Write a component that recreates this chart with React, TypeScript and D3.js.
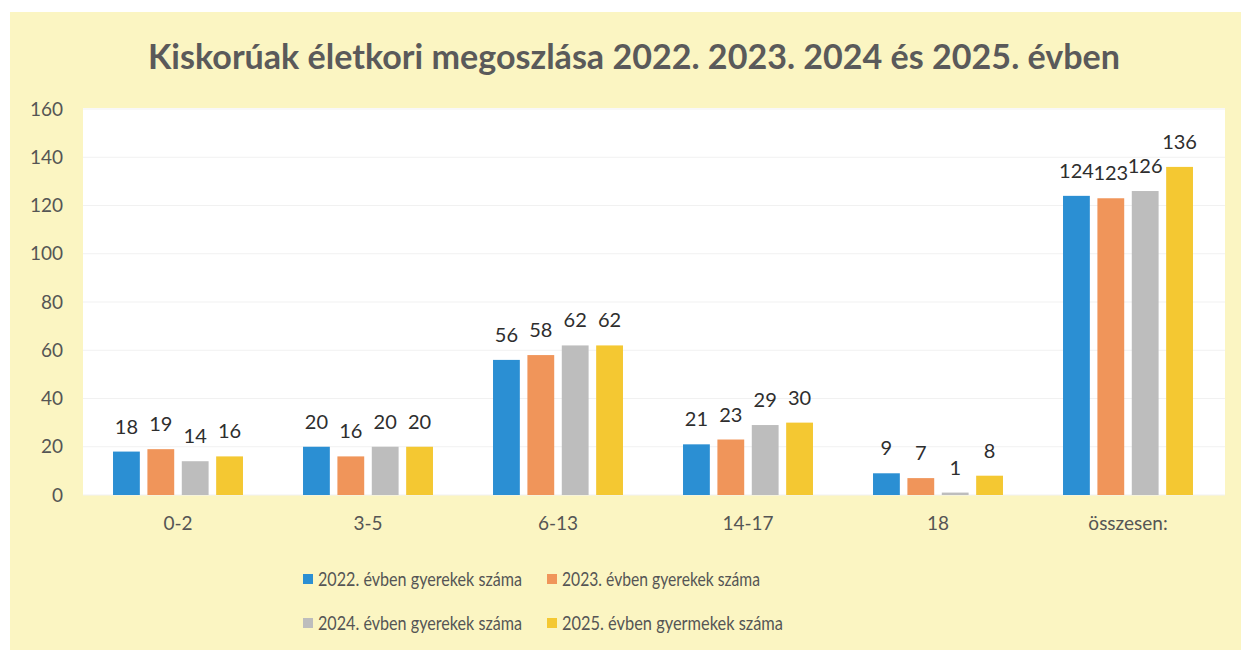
import React from 'react';
import * as d3 from 'd3';

// age groups on the x axis
const categories = ['0-2', '3-5', '6-13', '14-17', '18', 'összesen:'];

// one list per year, same order as categories
const series2022 = [18, 20, 56, 21, 9, 124];
const series2023 = [19, 16, 58, 23, 7, 123];
const series2024 = [14, 20, 62, 29, 1, 126];
const series2025 = [16, 20, 62, 30, 8, 136];

const seriesNames = [
  '2022. évben gyerekek száma',
  '2023. évben gyerekek száma',
  '2024. évben gyerekek száma',
  '2025. évben gyermekek száma',
];

const yTicks = [0, 20, 40, 60, 80, 100, 120, 140, 160];

const title = 'Kiskorúak életkori megoszlása 2022. 2023. 2024 és 2025. évben';

const colors = ['#2b8fd3', '#f0955a', '#bdbdbd', '#f4c832'];

const W = 1241;
const H = 650;
const FONT = 'Lato, "Open Sans", sans-serif';

export default function App() {
  const allSeries = [series2022, series2023, series2024, series2025];

  // plot area (white box)
  const left = 83;
  const right = 1223;
  const top = 108;
  const bottom = 495;

  const x0 = d3.scaleBand<string>()
    .domain(categories)
    .range([left, right])
    .paddingInner(0.316)
    .paddingOuter(0.158);

  const x1 = d3.scaleBand<number>()
    .domain(d3.range(allSeries.length))
    .range([0, x0.bandwidth()])
    .paddingInner(0.22);

  const y = d3.scaleLinear().domain([0, 160]).range([bottom, top + 1]);

  // legend is two rows of two, Calibri in the original so squeeze the text a bit
  const legendRows = [[0, 1], [2, 3]];
  const legendX = [303, 547];
  const legendY = [579, 623];
  const legendTextLen = [204, 198, 204, 221];

  return (
    <svg width={W} height={H} style={{display: 'block', position: 'absolute', left: 0, top: 0}}>
      <rect x={0} y={0} width={W} height={H} fill="#ffffff" />
      {/* yellow page */}
      <rect x={10} y={12} width={W - 10} height={H - 12} fill="#fbf5c2" />
      {/* plot area */}
      <rect x={left} y={top} width={right - left + 2} height={bottom - top} fill="#ffffff" />

      <text
        x={634}
        y={69}
        textAnchor="middle"
        fontFamily={FONT}
        fontWeight="bold"
        fontSize={34}
        fill="#5a5a5a"
        textLength={972}
        lengthAdjust="spacingAndGlyphs"
      >
        {title}
      </text>

      {/* gridlines */}
      {yTicks.map(t => (
        <line key={'g' + t} x1={left} x2={right + 2} y1={y(t)} y2={y(t)} stroke="#f1f1f1" strokeWidth={1} />
      ))}

      {/* y tick labels */}
      {yTicks.map(t => (
        <text key={'t' + t} x={63} y={y(t)} dy="0.35em" textAnchor="end"
          fontFamily={FONT} fontSize={19} fill="#555555">
          {t}
        </text>
      ))}

      {/* bars + labels */}
      {categories.map((c, ci) => (
        <g key={c} transform={`translate(${x0(c)},0)`}>
          {allSeries.map((s, si) => {
            const v = s[ci];
            const bx = x1(si) as number;
            return (
              <g key={si}>
                <rect x={bx} y={y(v)} width={x1.bandwidth()} height={bottom - y(v)} fill={colors[si]} />
                <text x={bx + x1.bandwidth() / 2} y={y(v) - 18} textAnchor="middle"
                  fontFamily={FONT} fontSize={20} fill="#2e2e2e">
                  {v}
                </text>
              </g>
            );
          })}
        </g>
      ))}

      {/* category labels */}
      {categories.map(c => (
        <text key={'c' + c} x={(x0(c) as number) + x0.bandwidth() / 2} y={530} textAnchor="middle"
          fontFamily={FONT} fontSize={19} fill="#555555">
          {c}
        </text>
      ))}

      {/* legend */}
      {legendRows.map((row, ri) => row.map((si, ci) => (
        <g key={'l' + si}>
          <rect x={legendX[ci]} y={legendY[ri] - 5} width={10} height={10} fill={colors[si]} />
          <text x={legendX[ci] + 15} y={legendY[ri]} dy="0.35em"
            fontFamily={FONT} fontSize={19} fill="#555555"
            textLength={legendTextLen[si]} lengthAdjust="spacingAndGlyphs">
            {seriesNames[si]}
          </text>
        </g>
      )))}
    </svg>
  );
}
